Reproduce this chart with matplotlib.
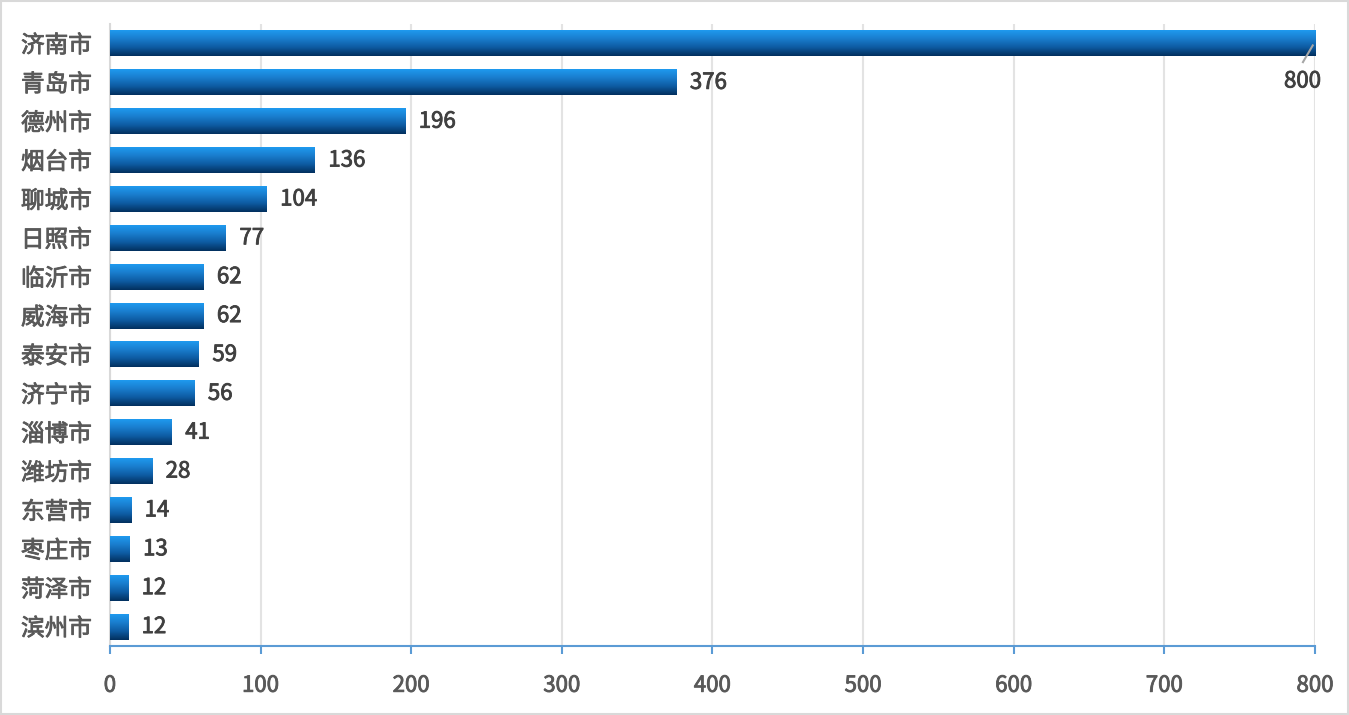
import numpy as np
import matplotlib.pyplot as plt
import matplotlib.patheffects as pe
import matplotlib.transforms as mtransforms
from matplotlib.colors import LinearSegmentedColormap
from matplotlib.patches import Rectangle

plt.rcParams['font.family'] = ['Noto Sans CJK SC', 'DejaVu Sans']

cities = ['济南市', '青岛市', '德州市', '烟台市', '聊城市', '日照市', '临沂市', '威海市',
          '泰安市', '济宁市', '淄博市', '潍坊市', '东营市', '枣庄市', '菏泽市', '滨州市']
values = [800, 376, 196, 136, 104, 77, 62, 62, 59, 56, 41, 28, 14, 13, 12, 12]
xticks = [0, 100, 200, 300, 400, 500, 600, 700, 800]

fig = plt.figure(figsize=(13.49, 7.15), dpi=100)
ax = fig.add_axes([0.0815, 0.0965, 0.8933, 0.8699])

# light grey frame round the whole figure
fig.patches.append(Rectangle((0.001, 0.001), 0.998, 0.997, transform=fig.transFigure,
                             fill=False, edgecolor='#D9D9D9', linewidth=1.5))

# thin stroke to make text look a bit heavier (medium weight)
def heavy(c):
    return [pe.withStroke(linewidth=0.6, foreground=c)]

y = np.arange(len(cities))
bars = ax.barh(y, values, height=0.67, color='none', zorder=3)

# vertical gradient: light blue on top, navy at the bottom
cmap = LinearSegmentedColormap.from_list('blu', ['#1F9DF2', '#1A7FD0', '#0E5CA3', '#02305F'])
grad = np.linspace(0, 1, 64).reshape(-1, 1)
for b in bars:
    x0, y0 = b.get_x(), b.get_y()
    w, h = b.get_width(), b.get_height()
    im = ax.imshow(grad, cmap=cmap, aspect='auto', extent=[x0, x0 + w, y0 + h, y0],
                   origin='upper', zorder=3)
    im.set_clip_path(b)

ax.set_xlim(0, 800)
ax.set_ylim(len(cities) - 0.5, -0.5)
ax.set_yticks(y)
ax.set_yticklabels(cities, fontsize=17, color='#595959')
ax.set_xticks(xticks)
ax.set_xticklabels([str(t) for t in xticks], fontsize=16, color='#595959')
up = mtransforms.ScaledTranslation(0, 2.5 / 72, fig.dpi_scale_trans)
for lab in ax.get_yticklabels():
    lab.set_transform(lab.get_transform() + up)
for lab in ax.get_yticklabels() + ax.get_xticklabels():
    lab.set_path_effects(heavy('#595959'))
ax.tick_params(axis='y', length=0, pad=13)
ax.tick_params(axis='x', length=6, color='#5B9BD5', width=1.5, pad=14)

ax.grid(axis='x', color='#E3E3E3', linewidth=1.5, zorder=0)
for s in ['top', 'right']:
    ax.spines[s].set_visible(False)
ax.spines['bottom'].set_color('#5B9BD5')
ax.spines['bottom'].set_linewidth(1.5)
ax.spines['left'].set_color('#D9D9D9')
ax.spines['left'].set_linewidth(1.5)

for i, v in enumerate(values):
    if i == 0:
        ax.annotate(str(v), xy=(v, i), xytext=(-9, -27), textcoords='offset points',
                    ha='center', va='center', fontsize=16, color='#404040',
                    path_effects=heavy('#404040'))
        ax.plot([v - 1.5, v - 8], [i + 0.05, i + 0.48], color='#A6A6A6', lw=1.5,
                zorder=4, clip_on=False)
    else:
        ax.text(v + 9, i, str(v), ha='left', va='center', fontsize=16,
                color='#404040', path_effects=heavy('#404040'))

fig.savefig('out.png', dpi=100)
